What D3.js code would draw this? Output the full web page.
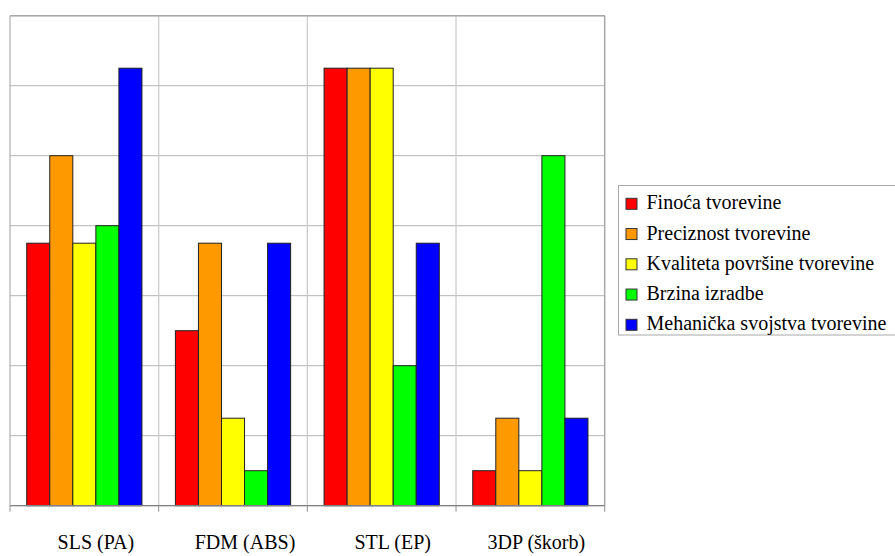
<!DOCTYPE html>
<html lang="hr"><head><meta charset="utf-8">
<script src="https://cdn.jsdelivr.net/npm/d3@7"></script>
<style>body{margin:0;background:#fff}</style>
</head><body>
<svg id="c" width="895" height="556"></svg>
<script>
const categories = ["SLS (PA)", "FDM (ABS)", "STL (EP)", "3DP (škorb)"];
const seriesNames = ["Finoća tvorevine", "Preciznost tvorevine", "Kvaliteta površine tvorevine", "Brzina izradbe", "Mehanička svojstva tvorevine"];
const seriesColors = ["#ff0000", "#ff9900", "#ffff00", "#00ff00", "#0000ff"];
const finoca     = [3.75, 2.5, 6.25, 0.5];
const preciznost = [5, 3.75, 6.25, 1.25];
const kvaliteta  = [3.75, 1.25, 6.25, 0.5];
const brzina     = [4, 0.5, 2, 5];
const mehanicka  = [6.25, 3.75, 3.75, 1.25];
const seriesValues = [finoca, preciznost, kvaliteta, brzina, mehanicka];
const yTicks = [0, 1, 2, 3, 4, 5, 6, 7];

const svg = d3.select("#c");
const L = 10, R = 604.7, T = 15.7, B = 505.7;
const x0 = d3.scaleBand().domain(categories).range([L, R]).padding(0);
const bw = x0.bandwidth();
const pad = bw * 0.1125;
const x1 = d3.scaleBand().domain(seriesNames).range([pad, bw - pad]).padding(0);
const y = d3.scaleLinear().domain([0, 7]).range([B, T]);

// horizontal gridlines
svg.append("g").selectAll("line").data(yTicks).join("line")
  .attr("x1", L).attr("x2", R)
  .attr("y1", d => y(d)).attr("y2", d => y(d))
  .attr("stroke", "#b4b4b4").attr("stroke-width", 1);
// vertical category lines
const bounds = categories.map(c => x0(c)).concat([R]);
svg.append("g").selectAll("line").data(bounds.slice(1, -1)).join("line")
  .attr("x1", d => d).attr("x2", d => d).attr("y1", T).attr("y2", B)
  .attr("stroke", "#c8c8c8").attr("stroke-width", 1.2);
// frame
svg.append("line").attr("x1", L).attr("x2", L).attr("y1", T).attr("y2", B).attr("stroke", "#a0a0a0");
svg.append("line").attr("x1", R).attr("x2", R).attr("y1", T).attr("y2", B).attr("stroke", "#a8a8a8").attr("stroke-width", 1.5);
svg.append("line").attr("x1", L).attr("x2", R).attr("y1", T).attr("y2", T).attr("stroke", "#a8a8a8").attr("stroke-width", 1.5);

// bars
const g = svg.append("g");
seriesNames.forEach((s, si) => {
  g.append("g").selectAll("rect").data(seriesValues[si]).join("rect")
    .attr("x", (d, i) => x0(categories[i]) + x1(s))
    .attr("width", x1.bandwidth())
    .attr("y", d => y(d))
    .attr("height", d => y(0) - y(d))
    .attr("fill", seriesColors[si])
    .attr("stroke", "#222").attr("stroke-width", 1);
});

// x axis line and ticks
svg.append("line").attr("x1", L).attr("x2", R).attr("y1", B).attr("y2", B).attr("stroke", "#808080").attr("stroke-width", 1.2);
svg.append("g").selectAll("line").data(bounds).join("line")
  .attr("x1", d => d).attr("x2", d => d).attr("y1", B).attr("y2", B + 6)
  .attr("stroke", "#909090");

// category labels
svg.append("g").selectAll("text").data(categories).join("text")
  .attr("x", (d, i) => x0(d) + bw / 2 + [11.5, 12, 11, 6][i])
  .attr("y", 549)
  .attr("text-anchor", "middle")
  .style("font-family", '"Liberation Serif", "Times New Roman", serif', "important")
  .style("font-size", "20px").attr("fill", "#000")
  .text(d => d);

// legend
const lg = svg.append("g");
lg.append("rect").attr("x", 618.5).attr("y", 185.5).attr("width", 290).attr("height", 149.5)
  .attr("fill", "#fff").attr("stroke", "#a8a8a8");
const items = lg.selectAll("g").data(seriesNames).join("g")
  .attr("transform", (d, i) => `translate(0, ${209.3 + i * 30.25})`);
items.append("rect").attr("x", 626).attr("y", -11).attr("width", 11).attr("height", 11)
  .attr("fill", (d, i) => seriesColors[i]).attr("stroke", "#333");
items.append("text").attr("x", 646.5).attr("y", 0)
  .style("font-family", '"Liberation Serif", "Times New Roman", serif', "important")
  .style("font-size", "20px").attr("fill", "#000")
  .text(d => d);
</script>
</body></html>
